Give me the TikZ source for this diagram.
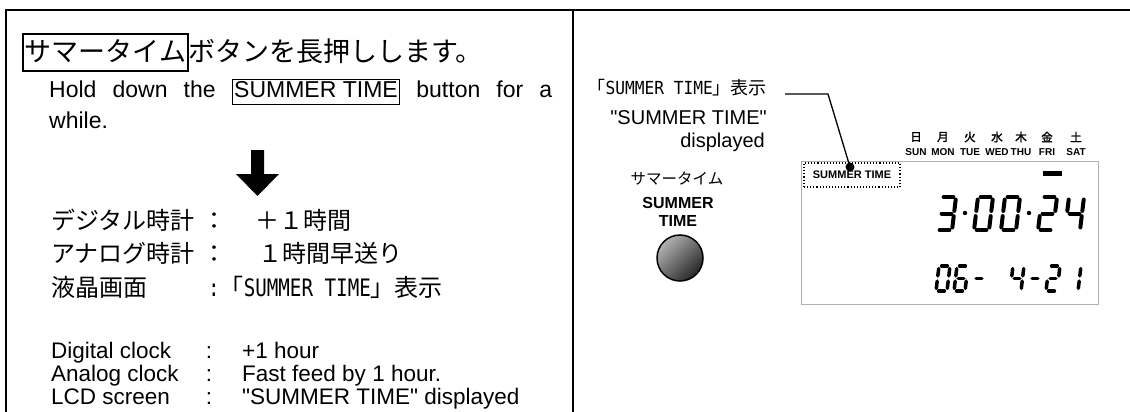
\documentclass[tikz,border=0pt]{standalone}
\usepackage{fontspec}
\setmainfont{Liberation Sans}[Ligatures=TeXOff]
\newfontfamily\jpfont{Noto Sans CJK JP}
\newfontfamily\jpbold[FakeBold=2.5]{Noto Sans CJK JP}
\newfontfamily\halffont[FakeStretch=0.9]{DejaVu Sans Mono}
\newfontfamily\halfnarrow[FakeStretch=0.8]{DejaVu Sans Mono}
\usetikzlibrary{positioning,calc}
\definecolor{LcdGray}{RGB}{175,175,175}
\setlength{\fboxsep}{1pt}
\setlength{\fboxrule}{1.5pt}
\tikzset{
  framerule/.style={draw=black,line width=2pt},
  divrule/.style={draw=black,line width=1.5pt},
  jp/.style={font=\jpfont\fontsize{24}{28}\selectfont,anchor=base west,inner sep=0pt},
  en/.style={font=\fontsize{22.5}{24}\selectfont,anchor=base west,inner sep=0pt},
  colon/.style={anchor=base,inner sep=0pt},
  leader/.style={draw=black,line width=1.3pt},
  lcdframe/.style={draw=LcdGray,line width=1.2pt,anchor=north west},
}
\tikzset{wdj/.style={font=\jpbold\fontsize{11.5}{12}\selectfont,inner sep=0pt},
  wde/.style={font=\bfseries\fontsize{10}{11}\selectfont,inner sep=0pt},
  seg/.style={draw=black,line cap=round},
  lcd a/.style={insert path={(\dg,0) -- ({\dw-\dg},0)}},
  lcd b/.style={insert path={(\dw,\dg) -- (\dw,{\dh/2-\dg})}},
  lcd c/.style={insert path={(\dw,{\dh/2+\dg}) -- (\dw,{\dh-\dg})}},
  lcd d/.style={insert path={(\dg,\dh) -- ({\dw-\dg},\dh)}},
  lcd e/.style={insert path={(0,{\dh/2+\dg}) -- (0,{\dh-\dg})}},
  lcd f/.style={insert path={(0,\dg) -- (0,{\dh/2-\dg})}},
  lcd g/.style={insert path={(\dg,{\dh/2}) -- ({\dw-\dg},{\dh/2})}}}
% one slanted seven-segment digit: x, y (top left), width, height, line width, segments
\newcommand{\lcdnum}[6]{%
  \begin{scope}[shift={(#1,#2)},xslant=0.12]
    \def\dw{#3}\def\dh{#4}\def\dg{2.6}
    \foreach \sg in {#6} {\draw[seg,line width=#5,lcd \sg];}
  \end{scope}}

\begin{document}
\begin{tikzpicture}[x=1pt,y=-1pt]
\useasboundingbox (0,0) rectangle (1130,412);
\coordinate (fTL) at (6,10);
\coordinate (fTR) at (1130,10);
\coordinate (fBL) at (6,412);
\coordinate (dT) at (573,10);
\coordinate (dB) at (573,412);
\draw[framerule] (fBL) -- (fTL) -- (fTR);
\draw[divrule] (dT) -- (dB);
% left column
\node[jp,font=\jpfont\fontsize{27}{32}\selectfont] (ttl) at (22,62) {\fbox{\rule[-7.5pt]{0pt}{34pt}サマータイム}ボタンを長押しします。};
\node[en,font=\fontsize{23}{30}\selectfont] (hold) at (49,98) {\makebox[503pt][s]{Hold down the \fbox{\rule[-4.5pt]{0pt}{21pt}SUMMER TIME} button for a}};
\node[en,font=\fontsize{23}{30}\selectfont] (whl) at (49,128) {while.};
\fill (251,150) -- (264,150) -- (264,174) -- (279,174) -- (257.5,196) -- (236,174) -- (251,174) -- cycle;
\node[jp] (jdig) at (51,229) {デジタル時計};
\node[jp,colon] (jdigc) at (214,229) {：};
\node[jp] (jdigv) at (255,229) {＋１時間};
\node[jp] (jana) at (51,262) {アナログ時計};
\node[jp,colon] (janac) at (214,262) {：};
\node[jp] (janav) at (258,262) {１時間早送り};
\node[jp] (jlcd) at (51,296) {液晶画面};
\node[jp] (jlcdv) at (208,296) {{\halfnarrow :}「{\halfnarrow SUMMER TIME}」表示};
\node[en] (edig) at (51,358) {Digital clock};
\node[en,colon] (edigc) at (209,358) {:};
\node[en] (edigv) at (242,358) {+1 hour};
\node[en] (eana) at (51,381) {Analog clock};
\node[en,colon] (eanac) at (209,381) {:};
\node[en] (eanav) at (242,381) {Fast feed by 1 hour.};
\node[en] (elcd) at (51,404) {LCD screen};
\node[en,colon] (elcdc) at (209,404) {:};
\node[en] (elcdv) at (242,404) {"SUMMER TIME" displayed};
% right column
\node[jp,anchor=base east,font=\jpfont\fontsize{18}{20}\selectfont] (dsp) at (767,94) {「{\halffont SUMMER TIME}」表示};
\node[en,anchor=base east,font=\fontsize{20}{22}\selectfont] (dspa) at (767,124) {"SUMMER TIME"};
\node[en,anchor=base east,font=\fontsize{20}{22}\selectfont] (dspb) at (765,147) {displayed};
\node[jp,anchor=base,font=\jpfont\fontsize{15.5}{17}\selectfont] (btnj) at (677,184) {サマータイム};
\node[align=center,inner sep=0pt,font=\bfseries\fontsize{16}{18}\selectfont] (btne) at (678,212) {SUMMER\\TIME};
\node[circle,draw=black,line width=1.5pt,minimum size=46pt,inner sep=0pt,
  shading=axis,top color=black!30,bottom color=black!85,shading angle=45] (btn) at (680,258) {};
\node[lcdframe,minimum width=297pt,minimum height=143pt] (lcd) at (801,161) {};
\node[draw=black,dotted,line width=1.1pt,minimum width=96pt,minimum height=24pt,inner sep=0pt,
  font=\bfseries\fontsize{11}{12}\selectfont] (stbox) at (852,175) {SUMMER TIME};
\coordinate (ldA) at (785,94);
\coordinate (ldB) at (828,94);
\coordinate (ldC) at (850,167);
\draw[leader] (ldA) -- (ldB) -- (ldC);
\fill (ldC) circle (4.5);
\foreach \x/\kj/\en in {916/日/SUN,943/月/MON,970/火/TUE,997/水/WED,1021/木/THU,1047/金/FRI,1076/土/SAT}{
  \node[wdj] (wj\en) at (\x,137) {\kj};
  \node[wde] (we\en) at (\x,152) {\en};
}
\fill (1043,171) rectangle (1062,175.5);
% 3:00:24
\lcdnum{941}{197}{15}{33}{4pt}{a,b,g,c,d}
\lcdnum{978}{197}{15}{33}{4pt}{a,b,c,d,e,f}
\lcdnum{1005}{197}{15}{33}{4pt}{a,b,c,d,e,f}
\lcdnum{1042}{197}{15}{33}{4pt}{a,b,g,e,d}
\lcdnum{1069}{197}{15}{33}{4pt}{f,g,b,c}
\fill (965,213) circle (2.2);
\fill (1029,213) circle (2.2);
% 06- 4-21
\lcdnum{939}{266}{11}{25}{3.5pt}{a,b,c,d,e,f}
\lcdnum{957}{266}{11}{25}{3.5pt}{a,f,g,e,c,d}
\lcdnum{975}{266}{11}{25}{3.5pt}{g}
\lcdnum{1013}{266}{11}{25}{3.5pt}{f,g,b,c}
\lcdnum{1031}{266}{11}{25}{3.5pt}{g}
\lcdnum{1049}{266}{11}{25}{3.5pt}{a,b,g,e,d}
\lcdnum{1070}{266}{11}{25}{3.5pt}{b,c}
\end{tikzpicture}
\end{document}
